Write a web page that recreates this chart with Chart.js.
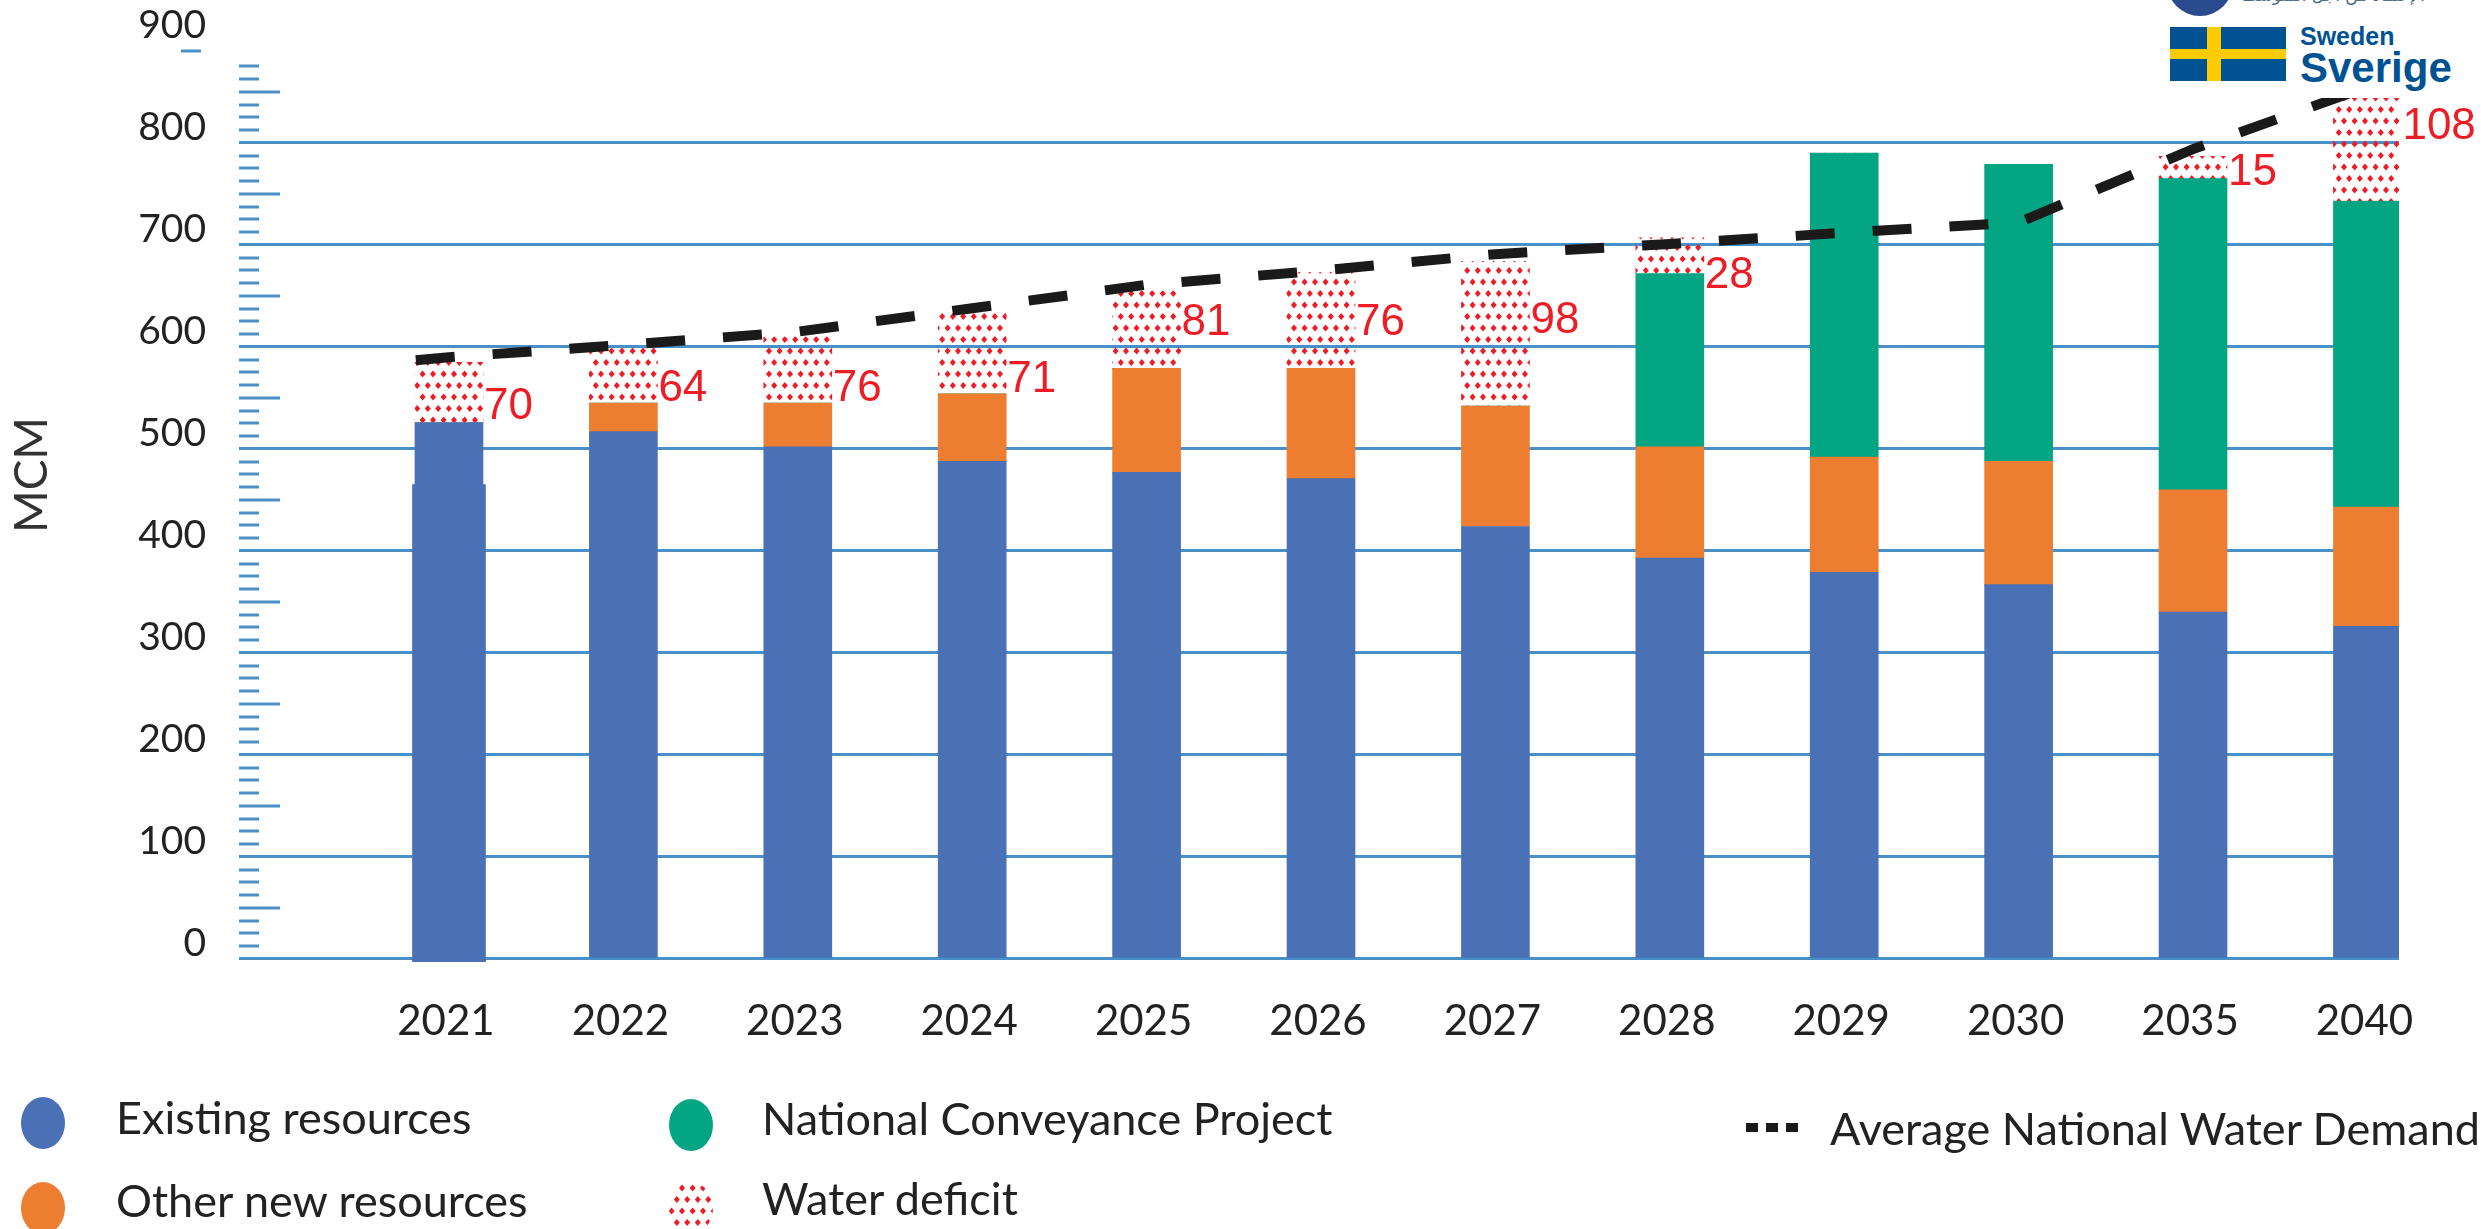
<!DOCTYPE html>
<html lang="en">
<head>
    <meta charset="UTF-8">
    <title>National water balance</title>
    <script src="https://cdn.jsdelivr.net/npm/chart.js"></script>
    <style>
        html, body { margin: 0; padding: 0; background: #fff; width: 2481px; height: 1229px; overflow: hidden; }
        canvas { position: absolute; left: 0; top: 0; }
        .leg { position: absolute; font-family: Lato, sans-serif; font-size: 45px; color: #222; white-space: nowrap; line-height: 52px; }
        .dot { position: absolute; width: 44px; height: 52px; border-radius: 50%; }
        #logo { position: absolute; left: 2165px; top: 0; width: 316px; height: 98px; background: #fff; overflow: hidden; }
        #logo div { position: absolute; white-space: nowrap; }
    </style>
</head>
<body>
    <canvas id="waterChart" width="2481" height="1229"></canvas>
    <div id="legend"></div>
    <div id="logo">
        <div style="left:2px;top:-50px;width:66px;height:66px;border-radius:50%;background:#2a4b8d"></div>
        <div style="left:95px;top:-15px;width:165px;text-align:center;font:17px 'DejaVu Sans';color:#4a6a8a" dir="rtl">الإعتماد من أجل المتوسط</div>
        <div style="left:5px;top:27px;width:116px;height:54px;background:#005293"></div>
        <div style="left:42px;top:27px;width:14px;height:54px;background:#fecb00"></div>
        <div style="left:5px;top:49px;width:116px;height:10px;background:#fecb00"></div>
        <div style="left:135px;top:22px;font:bold 25px 'Liberation Sans';color:#005293">Sweden</div>
        <div style="left:135px;top:44px;font:bold 42px 'Liberation Sans';color:#005293">Sverige</div>
    </div>

    <script>
        const years = ['2021', '2022', '2023', '2024', '2025', '2026', '2027', '2028', '2029', '2030', '2035', '2040'];
        const existing = [526, 517, 502, 488, 477, 471, 424, 393, 379, 367, 340, 326];
        const otherNew = [0, 28, 43, 66, 102, 108, 118, 109, 113, 121, 120, 117];
        const conveyance = [0, 0, 0, 0, 0, 0, 0, 170, 298, 291, 305, 300];
        const deficit = [59, 54, 65, 79, 76, 94, 142, 35, 0, 0, 22, 107];
        const deficitLabels = ['70', '64', '76', '71', '81', '76', '98', '28', '', '', '15', '108'];
        // height on the axis where each printed deficit number sits
        const deficitLabelLevels = [541, 559, 559, 568, 624, 624, 626, 670, 0, 0, 771, 816];
        const demandIndex = [-0.19, 0, 1, 2, 3, 4, 5, 6, 7, 8, 9, 10, 11, 11.11];
        const demand = [587, 590, 602, 615, 638, 661, 675, 691, 701, 712, 722, 794, 855, 863];
        const yTicks = [0, 100, 200, 300, 400, 500, 600, 700, 800, 900];

        const BLUE = '#4a71b5', ORANGE = '#ed7d31', GREEN = '#03a582', RED = '#ee1c25', LINE = '#4a90c8';

        // red dotted fill used for the water deficit
        const tile = document.createElement('canvas');
        tile.width = 21;
        tile.height = 23;
        const tc = tile.getContext('2d');
        tc.fillStyle = RED;
        [[2.6, 6], [13, 6], [7.8, 17.5], [18.2, 17.5]].forEach(([x, y]) => {
            tc.beginPath();
            tc.moveTo(x, y - 3.4);
            tc.lineTo(x + 3, y);
            tc.lineTo(x, y + 3.4);
            tc.lineTo(x - 3, y);
            tc.closePath();
            tc.fill();
        });

        const ctx = document.getElementById('waterChart').getContext('2d');
        const dots = ctx.createPattern(tile, 'repeat');
        const at = (values) => values.map((v, i) => ({ x: i, y: v }));

        // short and medium marks on the left of the plot, the stray one under "900"
        const axisMarks = {
            id: 'axisMarks',
            afterDatasetsDraw(chart) {
                const y = chart.scales.y, left = chart.chartArea.left;
                const c = chart.ctx;
                c.save();
                c.strokeStyle = LINE;
                c.lineWidth = 3;
                for (let v = 0; v <= 875; v += 12.5) {
                    if (v % 100 === 0) continue;
                    const p = Math.round(y.getPixelForValue(v));
                    c.beginPath();
                    c.moveTo(left, p);
                    c.lineTo(left + (v % 50 === 0 ? 41 : 20), p);
                    c.stroke();
                }
                const p = Math.round(y.getPixelForValue(890));
                c.beginPath();
                c.moveTo(181, p);
                c.lineTo(201, p);
                c.stroke();

                c.translate(32, 475);
                c.rotate(-Math.PI / 2);
                c.fillStyle = '#333';
                c.font = '46px Lato';
                c.textAlign = 'center';
                c.textBaseline = 'middle';
                c.fillText('MCM', 0, 0);
                c.restore();
            }
        };

        // the red numbers next to the dotted bars
        const deficitNumbers = {
            id: 'deficitNumbers',
            afterDatasetsDraw(chart) {
                const c = chart.ctx;
                const meta = chart.getDatasetMeta(3);
                c.save();
                c.fillStyle = RED;
                c.font = '44px "Liberation Sans"';
                c.textAlign = 'left';
                c.textBaseline = 'middle';
                deficitLabels.forEach((text, i) => {
                    if (!text) return;
                    const bar = meta.data[i];
                    c.fillText(text, bar.x + bar.width / 2 + 1, chart.scales.y.getPixelForValue(deficitLabelLevels[i]));
                });
                c.restore();
            }
        };

        const xRange = { min: -1.204, max: 11.181 };

        new Chart(ctx, {
            type: 'bar',
            data: {
                datasets: [
                    { label: 'Existing resources', data: at(existing), backgroundColor: BLUE, barThickness: 68, order: 2 },
                    { label: 'Other new resources', data: at(otherNew), backgroundColor: ORANGE, barThickness: 68, order: 2 },
                    { label: 'National Conveyance Project', data: at(conveyance), backgroundColor: GREEN, barThickness: 68, order: 2 },
                    { label: 'Water deficit', data: at(deficit), backgroundColor: dots, barThickness: 68, order: 2 },
                    // the 2021 bar is wider in its lower part
                    { label: 'Existing resources (lower part)', data: [{ x: 0, y: [-3, 465] }], backgroundColor: BLUE, barThickness: 73, xAxisID: 'x2', order: 1 },
                    {
                        type: 'line',
                        label: 'Average National Water Demand',
                        data: demand.map((v, i) => ({ x: demandIndex[i], y: v })),
                        borderColor: '#1a1a1a',
                        borderWidth: 10,
                        borderDash: [39, 38],
                        borderCapStyle: 'butt',
                        pointRadius: 0,
                        tension: 0,
                        order: 0
                    }
                ]
            },
            options: {
                responsive: false,
                animation: false,
                datasets: { bar: { grouped: false } },
                layout: { padding: { top: 41, right: 82, left: 0, bottom: 0 } },
                plugins: { legend: { display: false }, tooltip: { enabled: false } },
                scales: {
                    x: {
                        type: 'linear',
                        ...xRange,
                        stacked: true,
                        offset: false,
                        grid: { display: false },
                        border: { display: false },
                        afterBuildTicks(scale) { scale.ticks = years.map((_, i) => ({ value: i })); },
                        afterFit(scale) {
                            scale.height = 267;
                            scale.paddingLeft = 0;
                            scale.paddingRight = 0;
                        },
                        ticks: {
                            autoSkip: false,
                            maxRotation: 0,
                            padding: 26,
                            labelOffset: -3,
                            color: '#222',
                            font: { family: 'Lato', size: 42 },
                            callback: (v) => years[v]
                        }
                    },
                    x2: { type: 'linear', ...xRange, display: false, offset: false, grid: { display: false } },
                    y: {
                        min: -3,
                        max: 900,
                        stacked: true,
                        border: { display: false },
                        afterBuildTicks(scale) { scale.ticks = yTicks.map((v) => ({ value: v })); },
                        afterFit(scale) {
                            scale.width = 239;
                            scale.paddingTop = 0;
                            scale.paddingBottom = 0;
                        },
                        grid: {
                            drawTicks: false,
                            lineWidth: 3,
                            color: (c) => (c.tick && c.tick.value === 900 ? 'rgba(0,0,0,0)' : LINE)
                        },
                        ticks: {
                            padding: 33,
                            labelOffset: -16,
                            color: '#222',
                            font: { family: 'Lato', size: 39 }
                        }
                    }
                }
            },
            plugins: [axisMarks, deficitNumbers]
        });

        // legend sits in three uneven columns, so it is laid out by hand
        const legendItems = [
            { text: 'Existing resources', fill: BLUE, dx: 21, dy: 1097, tx: 116, ty: 1091 },
            { text: 'Other new resources', fill: ORANGE, dx: 21, dy: 1182, tx: 116, ty: 1174 },
            { text: 'National Conveyance Project', fill: GREEN, dx: 669, dy: 1099, tx: 762, ty: 1092 },
            { text: 'Water deficit', fill: 'url(' + tile.toDataURL() + ')', dx: 669, dy: 1182, tx: 762, ty: 1172 }
        ];
        const legend = document.getElementById('legend');
        legendItems.forEach((it) => {
            const d = document.createElement('div');
            d.className = 'dot';
            d.style.cssText = 'left:' + it.dx + 'px;top:' + it.dy + 'px;background:' + it.fill;
            legend.appendChild(d);
            const t = document.createElement('div');
            t.className = 'leg';
            t.style.cssText = 'left:' + it.tx + 'px;top:' + it.ty + 'px';
            t.textContent = it.text;
            legend.appendChild(t);
        });
        [1746, 1766, 1786].forEach((x) => {
            const d = document.createElement('div');
            d.style.cssText = 'position:absolute;left:' + x + 'px;top:1123px;width:12px;height:9px;background:#1a1a1a';
            legend.appendChild(d);
        });
        const demandText = document.createElement('div');
        demandText.className = 'leg';
        demandText.style.cssText = 'left:1830px;top:1102px';
        demandText.textContent = 'Average National Water Demand';
        legend.appendChild(demandText);
    </script>
</body>
</html>
